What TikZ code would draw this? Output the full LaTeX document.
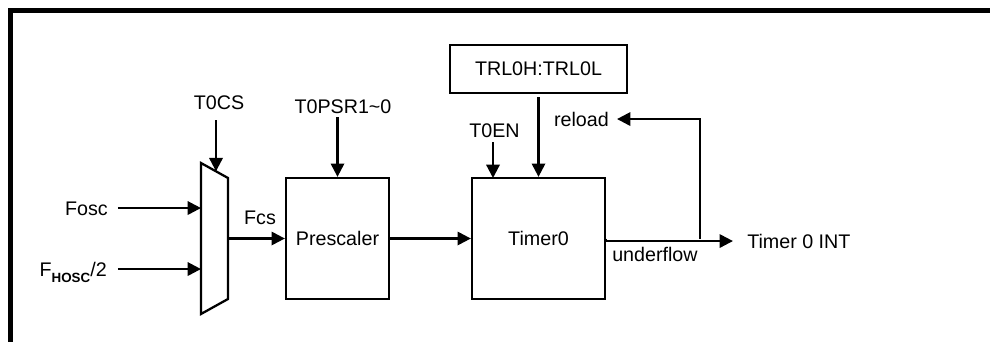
\documentclass[tikz,border=0pt]{standalone}
\usepackage{fontspec}
\setmainfont{Liberation Sans}
\usetikzlibrary{arrows.meta}

\tikzset{
  arr/.style={line width=1.6pt, -{Triangle[length=9.5pt,width=9.5pt]}},
  blk/.style={draw, line width=1.6pt, inner sep=0pt},
  lbl/.style={inner sep=0pt, text height=9.9pt, text depth=0pt}
}

\begin{document}
\begin{tikzpicture}[x=0.025cm, y=-0.025cm, font=\fontsize{14pt}{16pt}\selectfont]
		%%%%% START %%%%%
		\useasboundingbox (0,0) rectangle (990,342);
		\draw[line width=3pt] (990,10.5) -- (10.5,10.5) -- (10.5,342);
		
		% mux
		\draw[line width=1.6pt] (201,163) -- (228,178) -- (228,299) -- (201,314) -- cycle;
		\coordinate (muxa) at (201,208);
		\coordinate (muxb) at (201,269);
		\coordinate (muxo) at (228,238.5);
		\coordinate (muxs) at (216,171.3);
		
		% blocks
		\node[blk, minimum width=2.575cm, minimum height=3.025cm] (pre) at (337.5,238.5) {Prescaler};
		\node[blk, minimum width=3.325cm, minimum height=3.025cm] (tmr) at (538.5,238.5) {Timer0};
		\node[blk, minimum width=4.425cm, minimum height=1.2cm] (trl) at (538.5,69) {TRL0H:TRL0L};
		\coordinate (enin) at (493,178);
		\coordinate (split) at (700,238.5);
		
		% labels
		\node[lbl, anchor=base east] (fosc) at (108,215) {Fosc};
		\node[lbl, anchor=base east] (fhosc) at (107,276) {F\raisebox{-4.3pt}{\fontsize{9.5pt}{10pt}\selectfont\bfseries HOSC}/2};
		\node[lbl, anchor=base] (t0cs) at (219,109) {T0CS};
		\node[lbl, anchor=base] (psr) at (343,113) {T0PSR1\textasciitilde0};
		\node[lbl, anchor=base] (t0en) at (494.5,137) {T0EN};
		\node[lbl, anchor=base] (fcs) at (260,224) {Fcs};
		\node[lbl, anchor=base east] (reload) at (609,126) {reload};
		\node[lbl, anchor=base west] (uflow) at (612,261) {underflow};
		\node[lbl, anchor=base west] (tint) at (747,248) {Timer 0 INT};
		
		% signals
		\draw[arr, shorten <=7.1pt] (fosc.east) -- (fosc.east -| muxa);
		\draw[arr, shorten <=7.8pt] (fhosc.east) -- (fhosc.east -| muxb);
		\draw[arr, shorten <=7.8pt] (muxs |- t0cs.south) -- (muxs);
		\draw[arr] (muxo) -- (pre.west);
		\draw[arr, shorten <=2.8pt] (pre.north |- psr.south) -- (pre.north);
		\draw[arr] (pre) -- (tmr);
		\draw[arr, shorten <=3.6pt] (enin |- t0en.south) -- (enin);
		\draw[arr, shorten <=2.1pt] (trl.south) -- (tmr.north);
		\draw[arr, shorten >=10pt] (tmr.east) -- (tint.west -| tmr.east) -- (tint.west);
		\draw[arr, shorten >=5.7pt] (split) |- (reload.east);
		%%%%% END %%%%%
	\end{tikzpicture}
\end{document}
